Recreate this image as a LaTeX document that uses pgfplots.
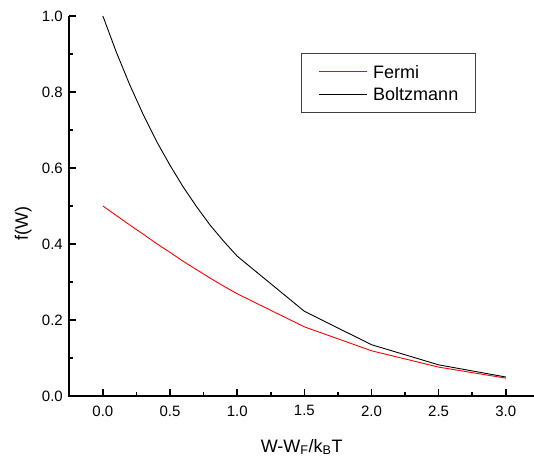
\documentclass[border=0pt]{standalone}
\usepackage{fontspec}
\setmainfont{Liberation Sans}
\usepackage{pgfplots}
\usetikzlibrary{calc}
\pgfplotsset{compat=1.18}

\pgfplotstableread{
x y
0.0 0.500
0.1 0.475
0.2 0.450
0.3 0.426
0.4 0.401
0.5 0.378
0.6 0.354
0.7 0.332
0.8 0.310
0.9 0.289
1.0 0.269
1.5 0.182
2.0 0.119
2.5 0.076
3.0 0.047
}\fermi

\pgfplotstableread{
x y
0.0 1.000
0.1 0.905
0.2 0.819
0.3 0.741
0.4 0.670
0.5 0.607
0.6 0.549
0.7 0.497
0.8 0.449
0.9 0.407
1.0 0.368
1.5 0.223
2.0 0.135
2.5 0.082
3.0 0.050
}\boltz

\begin{document}
\begin{tikzpicture}
\path (-69.3pt,-61pt) rectangle (464.7pt,396pt);
\begin{axis}[
    scale only axis,
    width=464.7pt, height=380pt,
    xmin=-0.25, xmax=3.21,
    ymin=0, ymax=1,
    clip=false,
    axis line style={draw=none},
    xtick pos=left, ytick pos=left,
    tick align=inside,
    tick style={line width=1.5pt, black},
    major tick length=7pt,
    minor tick length=4pt,
    xtick={0,0.5,...,3.0},
    ytick={0,0.2,...,1.0},
    minor x tick num=1,
    minor y tick num=1,
    /pgf/number format/assume math mode=true,
    /pgf/number format/fixed,
    /pgf/number format/fixed zerofill,
    /pgf/number format/precision=1,
    ticklabel style={font=\fontsize{15}{18}\selectfont},
    xticklabel style={yshift=-6pt},
    yticklabel style={xshift=-3pt},
    label style={font=\fontsize{18}{21}\selectfont},
    xlabel={W-W\textsubscript{F}/k\textsubscript{B}T},
    ylabel={f(W)},
    xlabel style={at={(axis description cs:0.5,0)}, yshift=-51pt, anchor=center},
    ylabel style={at={(axis description cs:0,0.453)}, yshift=46pt, anchor=center},
    legend style={
        at={(0.498,0.9018)}, anchor=north west,
        draw=black!75, line width=0.8pt,
        font=\fontsize{18}{21}\selectfont,
        inner xsep=17.5pt, inner ysep=11.5pt,
        row sep=9.7pt,
        nodes={inner sep=0pt, text height=13pt, text depth=0pt},
        /tikz/every odd column/.append style={column sep=5.7pt},
        legend cell align=left,
    },
    legend image code/.code={\draw[line width=0.9pt,#1] (0pt,0pt) -- (48pt,0pt);},
]
\fill[black] ($(rel axis cs:0,0)+(-0.8pt,-0.8pt)$) rectangle ($(rel axis cs:0,1)+(0.8pt,0pt)$);
\fill[black] ($(rel axis cs:0,0)+(-0.8pt,-0.8pt)$) rectangle ($(rel axis cs:1,0)+(0pt,0.8pt)$);
\addplot[red, line width=0.9pt] table {\fermi};
\addlegendentry{Fermi}
\addplot[black, line width=0.9pt] table {\boltz};
\addlegendentry{Boltzmann}
\end{axis}
\end{tikzpicture}
\end{document}
